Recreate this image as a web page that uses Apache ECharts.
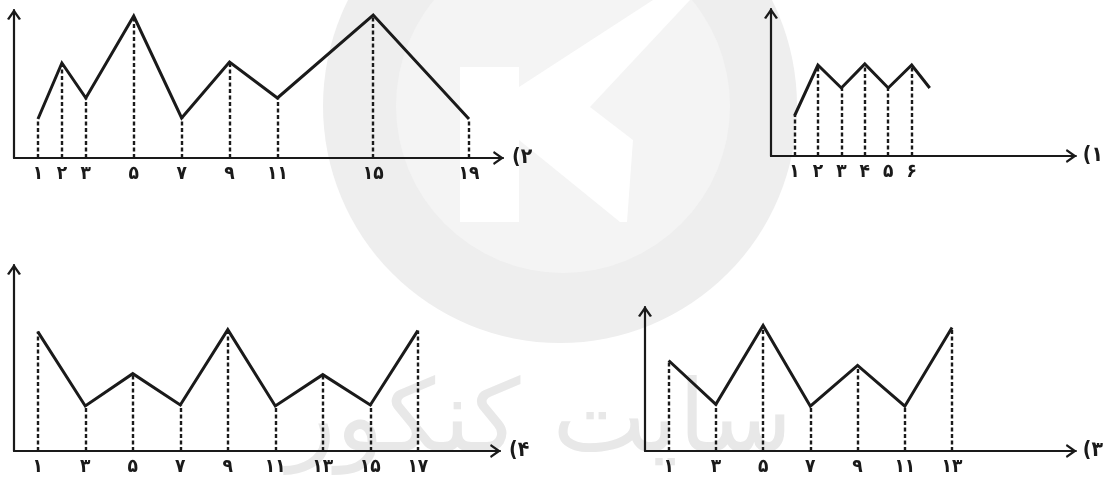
<!DOCTYPE html>
<html>
<head>
<meta charset="utf-8">
<script src="https://cdn.jsdelivr.net/npm/echarts@6/dist/echarts.min.js"></script>
<style>
html,body{margin:0;padding:0;background:#fff;}
#chart{width:1104px;height:477px;}
</style>
</head>
<body>
<div id="chart"></div>
<script>
// ---- data ----
const p1X = [1, 2, 3, 4, 5, 6, 6.77];
const p1Y = [40, 91, 68, 92, 68, 91, 68];
const p1Ticks = [1, 2, 3, 4, 5, 6];
const p1Labels = ['۱', '۲', '۳', '۴', '۵', '۶'];

const p2X = [1, 2, 3, 5, 7, 9, 11, 15, 19];
const p2Y = [39, 95, 60, 142, 40, 96, 60, 143, 39];
const p2Ticks = [1, 2, 3, 5, 7, 9, 11, 15, 19];
const p2Labels = ['۱', '۲', '۳', '۵', '۷', '۹', '۱۱', '۱۵', '۱۹'];

const p3X = [1, 3, 5, 7, 9, 11, 13];
const p3Y = [93, 48, 129, 46, 88, 46, 127];
const p3Ticks = [1, 3, 5, 7, 9, 11, 13];
const p3Labels = ['۱', '۳', '۵', '۷', '۹', '۱۱', '۱۳'];

const p4X = [1, 3, 5, 7, 9, 11, 13, 15, 17];
const p4Y = [122, 46, 79, 47, 124, 46, 78, 47, 123];
const p4Ticks = [1, 3, 5, 7, 9, 11, 13, 15, 17];
const p4Labels = ['۱', '۳', '۵', '۷', '۹', '۱۱', '۱۳', '۱۵', '۱۷'];

const panelNames = ['(۱', '(۲', '(۳', '(۴'];
const watermarkText = 'سایت کنکور';

// ---- layout / style ----
const INK = '#1a1a1a';
const ARROW = 'path://M7,0 L14,10 L11.9,11 L7,4 L2.1,11 L0,10 Z';
const FONT = '"DejaVu Sans Condensed", "DejaVu Sans", sans-serif';

const panels = [
  {X: p1X, Y: p1Y, ticks: p1Ticks, labels: p1Labels, name: panelNames[0],
   grid: {left: 771, top: 9, width: 311, height: 147}, xMax: 13, yMax: 147, nameGap: 7},
  {X: p2X, Y: p2Y, ticks: p2Ticks, labels: p2Labels, name: panelNames[1],
   grid: {left: 14, top: 10, width: 489, height: 148}, xMax: 20.42, yMax: 148, nameGap: 9},
  {X: p3X, Y: p3Y, ticks: p3Ticks, labels: p3Labels, name: panelNames[2],
   grid: {left: 645, top: 307, width: 436, height: 148}, xMax: 18.24, yMax: 148, nameGap: 7},
  {X: p4X, Y: p4Y, ticks: p4Ticks, labels: p4Labels, name: panelNames[3],
   grid: {left: 14, top: 265, width: 486, height: 190}, xMax: 20.46, yMax: 190, nameGap: 9}
];

const axisLineCommon = () => ({
  show: true,
  onZero: false,
  symbol: ['none', ARROW],
  symbolSize: [14, 11],
  symbolOffset: [0, -4.5],
  lineStyle: {color: INK, width: 2.2}
});

const option = {
  animation: false,
  backgroundColor: '#fff',
  graphic: {
    elements: [
      {type: 'circle', z: -10, silent: true, shape: {cx: 560, cy: 106, r: 237}, style: {fill: '#eeeeee'}},
      {type: 'circle', z: -9, silent: true, shape: {cx: 563, cy: 106, r: 167}, style: {fill: '#f4f4f4'}},
      {type: 'polygon', z: -8, silent: true,
       shape: {points: [[460,67],[519,67],[519,87],[653,0],[690,0],[590,107],[633,140],[627,222],[620,222],[519,140],[519,222],[460,222]]},
       style: {fill: '#ffffff'}},
      {type: 'text', z: -7, silent: true,
       style: {text: watermarkText, x: 540, y: 425, fill: '#e8e8e8', fontSize: 100,
               fontFamily: '"DejaVu Sans", sans-serif', align: 'center', verticalAlign: 'middle'}}
    ]
  },
  grid: panels.map(p => Object.assign({containLabel: false}, p.grid)),
  xAxis: panels.map((p, i) => ({
    type: 'value', gridIndex: i, min: 0, max: p.xMax,
    axisLine: axisLineCommon(),
    axisTick: {show: false},
    splitLine: {show: false},
    axisLabel: {
      customValues: p.ticks,
      formatter: v => p.labels[p.ticks.indexOf(v)],
      margin: 7, fontSize: 19, fontWeight: 'bold', color: INK, fontFamily: FONT
    },
    name: p.name, nameLocation: 'end', nameGap: p.nameGap,
    nameTextStyle: {fontSize: 21, fontWeight: 'bold', color: INK, fontFamily: FONT}
  })),
  yAxis: panels.map((p, i) => ({
    type: 'value', gridIndex: i, min: 0, max: p.yMax,
    axisLine: axisLineCommon(),
    axisTick: {show: false},
    axisLabel: {show: false},
    splitLine: {show: false}
  })),
  series: panels.map((p, i) => ({
    type: 'line', xAxisIndex: i, yAxisIndex: i,
    data: p.X.map((x, k) => [x, p.Y[k]]),
    symbol: 'none', clip: false,
    lineStyle: {color: INK, width: 3, join: 'miter'},
    markLine: {
      silent: true, animation: false,
      symbol: ['none', 'none'],
      label: {show: false},
      lineStyle: {type: [4, 2.5], width: 2.4, color: INK},
      data: p.X.map((x, k) => ({x, y: p.Y[k]}))
        .filter(pt => p.ticks.indexOf(pt.x) >= 0)
        .map(pt => [{coord: [pt.x, 0]}, {coord: [pt.x, pt.y]}])
    }
  }))
};

const chart = echarts.init(document.getElementById('chart'), null, {renderer: 'canvas'});
chart.setOption(option);
</script>
</body>
</html>
